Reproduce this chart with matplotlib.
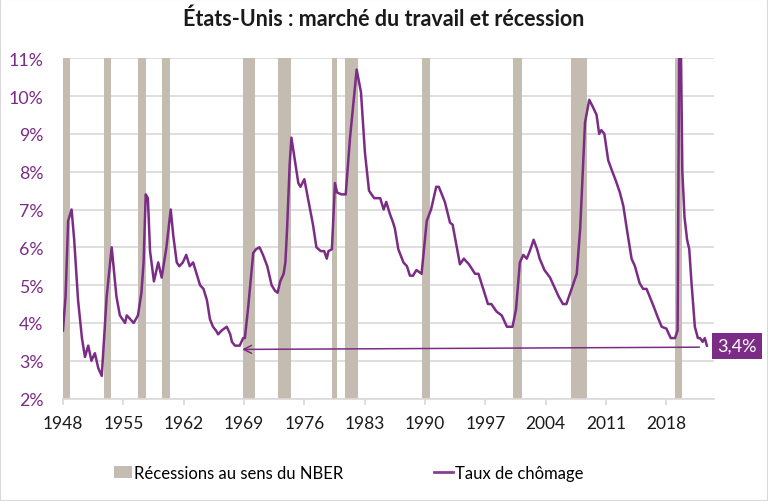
import numpy as np
import matplotlib
matplotlib.use('Agg')
import matplotlib.pyplot as plt
from matplotlib.patches import Patch, Rectangle
from matplotlib.lines import Line2D

plt.rcParams['font.family'] = ['Lato', 'DejaVu Sans']

# Taux de chômage (%) -- position sur l'axe (années) et valeur
years = [1948.0, 1948.3, 1948.6, 1949.0, 1949.3, 1949.75, 1950.2, 1950.55, 1950.93, 1951.3,
         1951.7, 1952.1, 1952.5, 1953.07, 1953.65, 1954.2, 1954.6, 1954.9, 1955.2, 1955.4,
         1955.8, 1956.2, 1956.7, 1957.1, 1957.35, 1957.6, 1957.85, 1958.1, 1958.55, 1959.05,
         1959.45, 1960.0, 1960.5, 1960.8, 1961.2, 1961.5, 1961.9, 1962.3, 1962.7, 1963.1,
         1963.5, 1963.9, 1964.3, 1964.7, 1965.05, 1965.4, 1965.75, 1966.0, 1966.4, 1967.0,
         1967.4, 1967.6, 1967.95, 1968.5, 1968.9, 1969.1, 1969.5, 1970.07, 1970.4, 1970.8,
         1971.2, 1971.7, 1972.2, 1972.6, 1972.9, 1973.2, 1973.6, 1973.8, 1974.0, 1974.3,
         1974.5, 1974.9, 1975.3, 1975.55, 1976.0, 1976.5, 1977.0, 1977.4, 1977.9, 1978.3,
         1978.6, 1978.8, 1979.2, 1979.55, 1979.8, 1980.3, 1980.8, 1981.3, 1982.07, 1982.57,
         1983.03, 1983.5, 1984.1, 1984.8, 1985.2, 1985.5, 1985.9, 1986.3, 1986.5, 1986.9,
         1987.5, 1987.9, 1988.25, 1988.6, 1989.0, 1989.6, 1990.2, 1990.7, 1991.3, 1991.6,
         1992.3, 1992.9, 1993.2, 1993.6, 1994.05, 1994.5, 1995.1, 1995.8, 1996.2, 1996.75,
         1997.3, 1997.7, 1998.3, 1998.9, 1999.5, 1999.8, 2000.15, 2000.55, 2001.0, 2001.4,
         2001.8, 2002.15, 2002.6, 2003.0, 2003.3, 2003.85, 2004.5, 2005.1, 2005.5, 2006.0,
         2006.4, 2007.0, 2007.6, 2008.0, 2008.56, 2009.05, 2009.5, 2009.9, 2010.2, 2010.45,
         2010.8, 2011.25, 2011.65, 2012.15, 2012.6, 2013.0, 2013.4, 2013.96, 2014.35, 2014.9,
         2015.3, 2015.7, 2016.5, 2017.0, 2017.45, 2018.0, 2018.5, 2019.0, 2019.3, 2019.55,
         2019.85, 2020.1, 2020.4, 2020.65, 2020.9, 2021.3, 2021.65, 2021.9, 2022.2, 2022.45,
         2022.7]
chomage = [3.8, 4.7, 6.7, 7.0, 6.2, 4.6, 3.6, 3.1, 3.4, 3.0,
           3.2, 2.8, 2.6, 4.7, 6.0, 4.7, 4.2, 4.1, 4.0, 4.2,
           4.1, 4.0, 4.2, 4.8, 5.6, 7.4, 7.3, 5.9, 5.1, 5.6,
           5.2, 6.0, 7.0, 6.3, 5.6, 5.5, 5.6, 5.8, 5.5, 5.6,
           5.3, 5.0, 4.9, 4.6, 4.1, 3.9, 3.8, 3.7, 3.8, 3.9,
           3.7, 3.5, 3.4, 3.4, 3.6, 3.6, 4.45, 5.85, 5.95, 6.0,
           5.8, 5.5, 5.0, 4.85, 4.8, 5.1, 5.3, 5.6, 6.5, 8.2,
           8.9, 8.3, 7.7, 7.6, 7.8, 7.2, 6.6, 6.0, 5.9, 5.9,
           5.7, 5.9, 5.95, 7.7, 7.45, 7.4, 7.4, 8.9, 10.7, 10.1,
           8.5, 7.5, 7.3, 7.3, 7.0, 7.2, 6.9, 6.65, 6.5, 5.95,
           5.6, 5.5, 5.25, 5.25, 5.4, 5.3, 6.7, 7.0, 7.6, 7.6,
           7.2, 6.65, 6.6, 6.1, 5.55, 5.7, 5.55, 5.3, 5.3, 4.9,
           4.5, 4.5, 4.3, 4.2, 3.9, 3.9, 3.9, 4.35, 5.6, 5.8,
           5.7, 5.9, 6.2, 5.95, 5.7, 5.4, 5.2, 4.9, 4.7, 4.5,
           4.5, 4.9, 5.3, 6.5, 9.3, 9.9, 9.7, 9.5, 9.0, 9.1,
           9.0, 8.3, 8.05, 7.75, 7.45, 7.1, 6.5, 5.7, 5.5, 5.05,
           4.9, 4.9, 4.45, 4.15, 3.9, 3.85, 3.6, 3.6, 3.8, 14.0,
           8.0, 6.8, 6.2, 5.95, 5.1, 3.9, 3.6, 3.6, 3.5, 3.6,
           3.4]

# Récessions NBER (début, fin) en position sur l'axe
rec_debut = [1948.0, 1952.75, 1956.7, 1959.5, 1968.85, 1973.0, 1979.2, 1980.75, 1989.65, 2000.15, 2006.9, 2019.05]
rec_fin = [1948.8, 1953.55, 1957.6, 1960.4, 1970.25, 1974.5, 1979.8, 1982.25, 1990.6, 2001.2, 2008.75, 2019.8]

xticks = [1948, 1955, 1962, 1969, 1976, 1983, 1990, 1997, 2004, 2011, 2018]
yticks = [2, 3, 4, 5, 6, 7, 8, 9, 10, 11]
dernier = 3.4

violet = '#7B2C85'
beige = '#C4BCB0'
grille = '#D9D9D9'

fig = plt.figure(figsize=(7.68, 5.02), dpi=100)
ax = fig.add_axes([0.082, 0.204, 0.848, 0.678])

for d, f in zip(rec_debut, rec_fin):
    ax.axvspan(d, f, color=beige, lw=0, zorder=1)

ax.plot(years, chomage, color=violet, lw=1.8, zorder=3, solid_joinstyle='round')

ax.annotate('', xy=(1968.45, 3.3), xytext=(2022.15, 3.36),
            arrowprops=dict(arrowstyle='->', color=violet, lw=1.1, mutation_scale=14), zorder=4)

ax.set_xlim(1948, 2023.55)
ax.set_ylim(2, 11)
ax.set_xticks(xticks)
ax.set_xticklabels([str(t) for t in xticks])
ax.set_yticks(yticks)
ax.set_yticklabels([f'{t}%' for t in yticks])
ax.yaxis.grid(True, color=grille, lw=1.2, zorder=0)
ax.set_axisbelow(True)
for s in ('left', 'right', 'top'):
    ax.spines[s].set_visible(False)
ax.spines['bottom'].set_color(grille)
ax.spines['bottom'].set_linewidth(1.2)
ax.tick_params(axis='y', length=0, pad=14, labelsize=12.8, labelcolor=violet)
ax.tick_params(axis='x', length=4.5, width=1.2, color=grille, pad=7, labelsize=12.5, labelcolor='#1a1a1a')

fig.text(0.5, 0.962, 'États-Unis : marché du travail et récession', ha='center', va='center',
         fontsize=15.5, fontweight='bold', color='#1a1a1a')

fig.text(0.9596, 0.3088, f'{dernier:.1f}%'.replace('.', ','), ha='center', va='center',
         color='white', fontsize=13,
         bbox=dict(boxstyle='square,pad=0.3', fc=violet, ec='none'))

handles = [Patch(facecolor=beige, edgecolor='none'), Line2D([], [], color='#8A3C98', lw=2)]
labels = ['Récessions au sens du NBER', 'Taux de chômage']
fig.legend(handles, labels, loc='center', bbox_to_anchor=(0.454, 0.056), ncol=2, frameon=False,
           fontsize=12, handlelength=1.1, handleheight=0.7, handletextpad=0.15, columnspacing=5.45)

fig.patches.append(Rectangle((0, 0), 1, 1, transform=fig.transFigure, fill=False,
                             ec=grille, lw=1.5))

fig.savefig('out.png', dpi=100)
